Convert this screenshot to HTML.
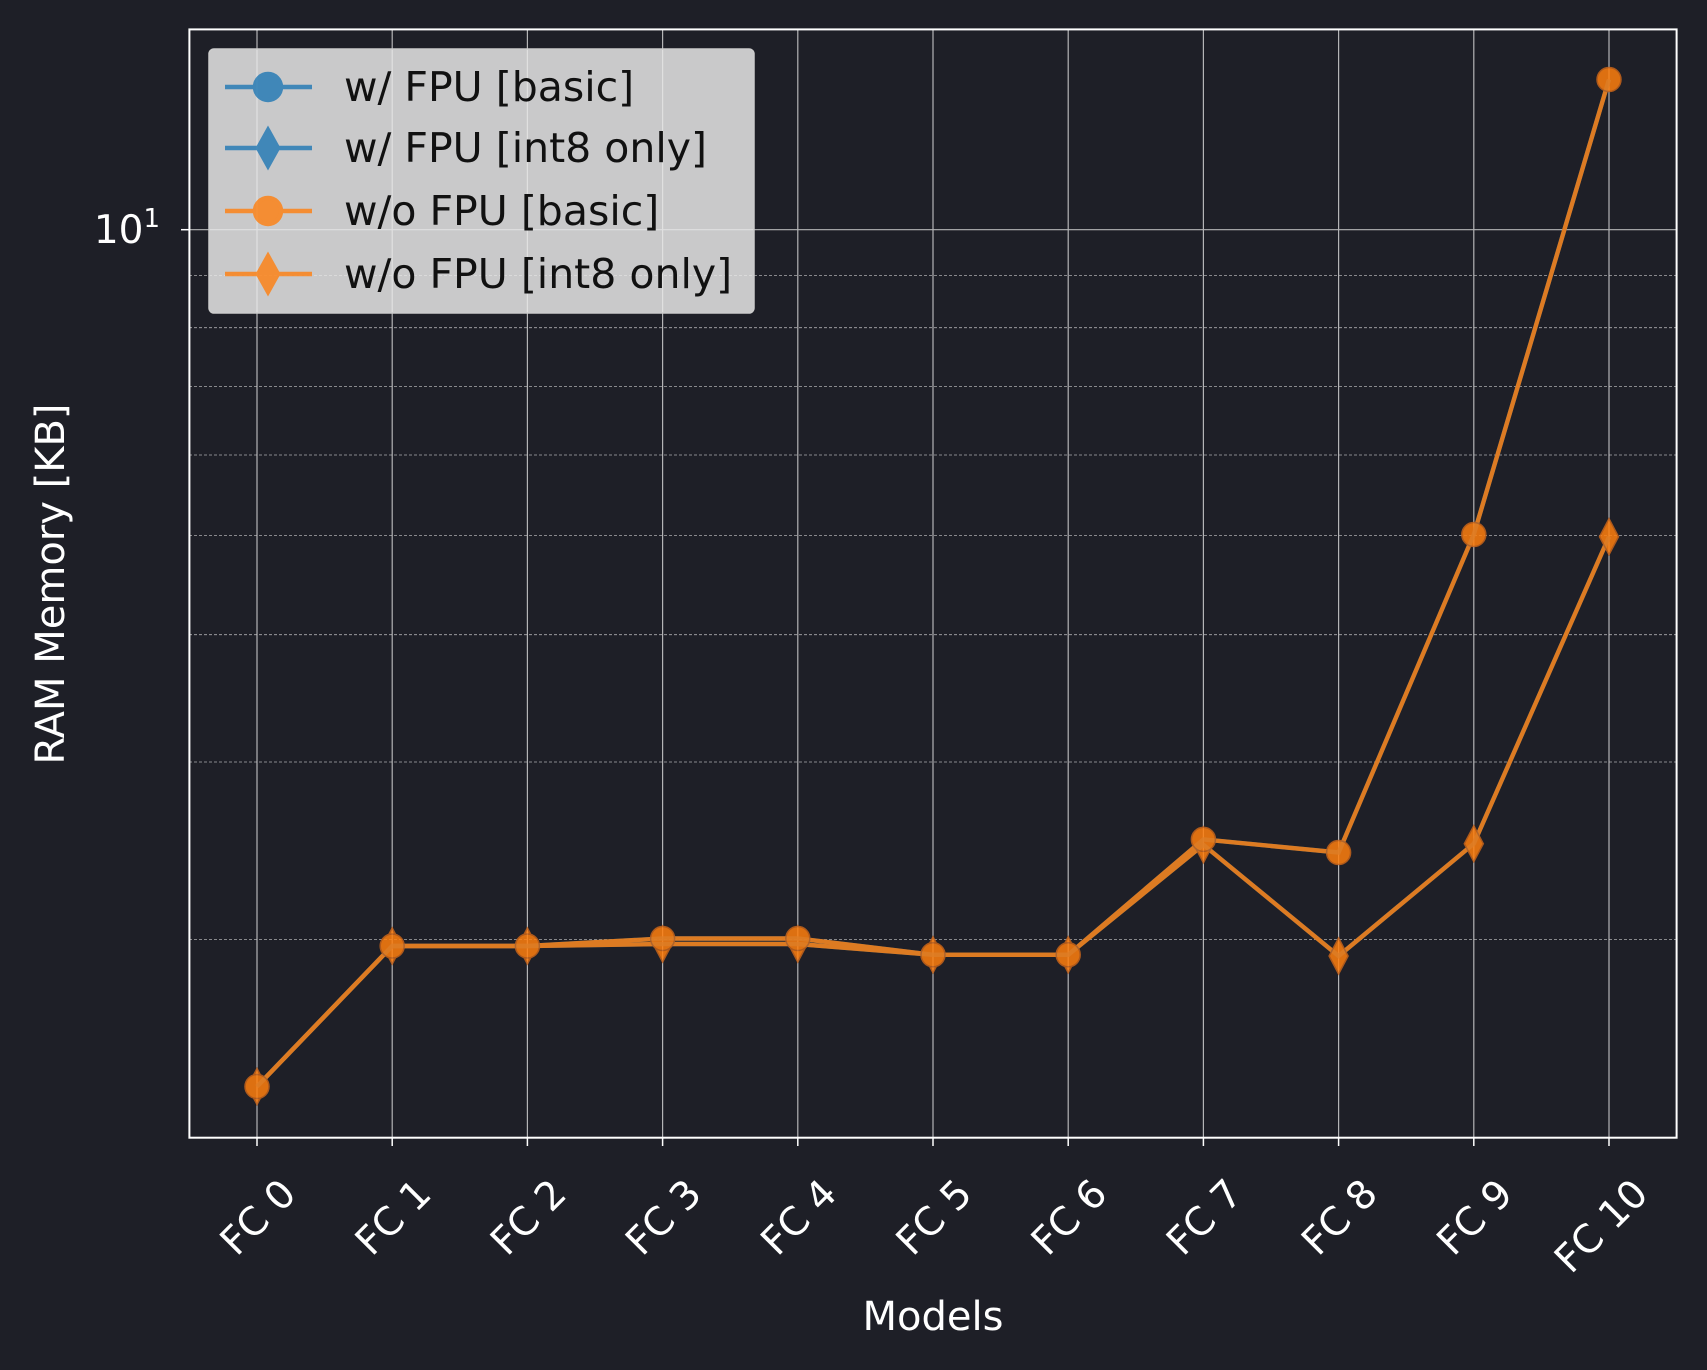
<!DOCTYPE html>
<html><head><meta charset="utf-8"><style>body{margin:0;background:#1e1f27}svg{display:block}</style></head><body>
<svg width="1707" height="1370" viewBox="0 0 1707 1370" xmlns="http://www.w3.org/2000/svg" font-family="DejaVu Sans, Liberation Sans, sans-serif">
<rect width="1707" height="1370" fill="#1e1f27"/>
<g stroke="#d0d0d0" stroke-width="0.8" stroke-dasharray="3,2" opacity="0.8">
<line x1="189" x2="1677" y1="275.4" y2="275.4"/><line x1="189" x2="1677" y1="327.7" y2="327.7"/><line x1="189" x2="1677" y1="386.5" y2="386.5"/><line x1="189" x2="1677" y1="455" y2="455"/><line x1="189" x2="1677" y1="535.6" y2="535.6"/><line x1="189" x2="1677" y1="634.7" y2="634.7"/><line x1="189" x2="1677" y1="762" y2="762"/><line x1="189" x2="1677" y1="939.5" y2="939.5"/>
</g>
<g stroke="#cfcfcf" stroke-width="1.2" opacity="0.85">
<line x1="189" x2="1677" y1="229.7" y2="229.7"/>
<line x1="257" x2="257" y1="29" y2="1138"/><line x1="392.2" x2="392.2" y1="29" y2="1138"/><line x1="527.4" x2="527.4" y1="29" y2="1138"/><line x1="662.6" x2="662.6" y1="29" y2="1138"/><line x1="797.8" x2="797.8" y1="29" y2="1138"/><line x1="933" x2="933" y1="29" y2="1138"/><line x1="1068.2" x2="1068.2" y1="29" y2="1138"/><line x1="1203.4" x2="1203.4" y1="29" y2="1138"/><line x1="1338.6" x2="1338.6" y1="29" y2="1138"/><line x1="1473.8" x2="1473.8" y1="29" y2="1138"/><line x1="1609" x2="1609" y1="29" y2="1138"/>
</g>
<rect x="189.4" y="29.4" width="1487.2" height="1108.3" fill="none" stroke="#fff" stroke-width="2"/>
<g stroke="#fff" stroke-width="1.5">
<line x1="181" x2="189" y1="229.7" y2="229.7"/>
<line x1="257" x2="257" y1="1138" y2="1146"/><line x1="392.2" x2="392.2" y1="1138" y2="1146"/><line x1="527.4" x2="527.4" y1="1138" y2="1146"/><line x1="662.6" x2="662.6" y1="1138" y2="1146"/><line x1="797.8" x2="797.8" y1="1138" y2="1146"/><line x1="933" x2="933" y1="1138" y2="1146"/><line x1="1068.2" x2="1068.2" y1="1138" y2="1146"/><line x1="1203.4" x2="1203.4" y1="1138" y2="1146"/><line x1="1338.6" x2="1338.6" y1="1138" y2="1146"/><line x1="1473.8" x2="1473.8" y1="1138" y2="1146"/><line x1="1609" x2="1609" y1="1138" y2="1146"/>
</g>
<defs>
<circle id="c" r="12"/>
<path id="d" d="M0,-18 L9.5,0 L0,18 L-9.5,0Z"/>
</defs>
<g fill="none" stroke="#1f77b4" stroke-width="4.4" opacity="0.8">
<polyline points="257,1086.5 392.2,946 527.4,946 662.6,938.5 797.8,938.5 933,954.8 1068.2,954.8 1203.4,839.4 1338.6,852.5 1473.8,534.5 1609,79.5"/>
<polyline points="257,1086.5 392.2,946 527.4,946 662.6,944 797.8,944 933,954.8 1068.2,954.8 1203.4,844.8 1338.6,956 1473.8,843.7 1609,536.7"/>
</g>
<g fill="#ff7f0e" stroke="#ff7f0e" opacity="0.85">
<polyline fill="none" stroke-width="4.4" points="257,1086.5 392.2,946 527.4,946 662.6,938.5 797.8,938.5 933,954.8 1068.2,954.8 1203.4,839.4 1338.6,852.5 1473.8,534.5 1609,79.5"/>
<polyline fill="none" stroke-width="4.4" points="257,1086.5 392.2,946 527.4,946 662.6,944 797.8,944 933,954.8 1068.2,954.8 1203.4,844.8 1338.6,956 1473.8,843.7 1609,536.7"/>
<g stroke="#c8641a" stroke-width="1.5">
<use href="#d" x="257" y="1086.5"/><use href="#d" x="392.2" y="946"/><use href="#d" x="527.4" y="946"/><use href="#d" x="662.6" y="944"/><use href="#d" x="797.8" y="944"/><use href="#d" x="933" y="954.8"/><use href="#d" x="1068.2" y="954.8"/><use href="#d" x="1203.4" y="844.8"/><use href="#d" x="1338.6" y="956"/><use href="#d" x="1473.8" y="843.7"/><use href="#d" x="1609" y="536.7"/>
<use href="#c" x="257" y="1086.5"/><use href="#c" x="392.2" y="946"/><use href="#c" x="527.4" y="946"/><use href="#c" x="662.6" y="938.5"/><use href="#c" x="797.8" y="938.5"/><use href="#c" x="933" y="954.8"/><use href="#c" x="1068.2" y="954.8"/><use href="#c" x="1203.4" y="839.4"/><use href="#c" x="1338.6" y="852.5"/><use href="#c" x="1473.8" y="534.5"/><use href="#c" x="1609" y="79.5"/>
</g>
</g>
<rect x="209" y="49" width="545" height="264" rx="5" fill="#e8e8e8" fill-opacity="0.85" stroke="#ccc" stroke-width="1.5"/>
<g stroke-width="4.4">
<g stroke="#1f77b4" fill="#1f77b4" opacity="0.8"><line x1="225" x2="312" y1="87" y2="87"/><circle cx="268" cy="87" r="13"/><line x1="225" x2="312" y1="148" y2="148"/><path d="M268,130 L278,148 L268,166 L258,148Z"/></g>
<g stroke="#ff7f0e" fill="#ff7f0e" opacity="0.8"><line x1="225" x2="312" y1="211" y2="211"/><circle cx="268" cy="211" r="13"/><line x1="225" x2="312" y1="274" y2="274"/><path d="M268,256 L278,274 L268,292 L258,274Z"/></g>
</g>
<g font-size="41" fill="#111">
<text x="344" y="101">w/ FPU [basic]</text>
<text x="344" y="162">w/ FPU [int8 only]</text>
<text x="344" y="225">w/o FPU [basic]</text>
<text x="344" y="288">w/o FPU [int8 only]</text>
</g>
<g fill="#fff" font-size="39">
<text x="160" y="243" text-anchor="end">10<tspan font-size="26" dy="-16">1</tspan></text>
<text x="933" y="1330" text-anchor="middle" font-size="40">Models</text>
<text transform="translate(64,584) rotate(-90)" text-anchor="middle" font-size="40">RAM Memory [KB]</text>
</g>
<g fill="#fff" font-size="39" text-anchor="end">
<text transform="translate(298,1196) rotate(-45)">FC 0</text>
<text transform="translate(433.2,1196) rotate(-45)">FC 1</text>
<text transform="translate(568.4,1196) rotate(-45)">FC 2</text>
<text transform="translate(703.6,1196) rotate(-45)">FC 3</text>
<text transform="translate(838.8,1196) rotate(-45)">FC 4</text>
<text transform="translate(974,1196) rotate(-45)">FC 5</text>
<text transform="translate(1109.2,1196) rotate(-45)">FC 6</text>
<text transform="translate(1244.4,1196) rotate(-45)">FC 7</text>
<text transform="translate(1379.6,1196) rotate(-45)">FC 8</text>
<text transform="translate(1514.8,1196) rotate(-45)">FC 9</text>
<text transform="translate(1650,1196) rotate(-45)">FC 10</text>
</g>
</svg>
</body></html>
